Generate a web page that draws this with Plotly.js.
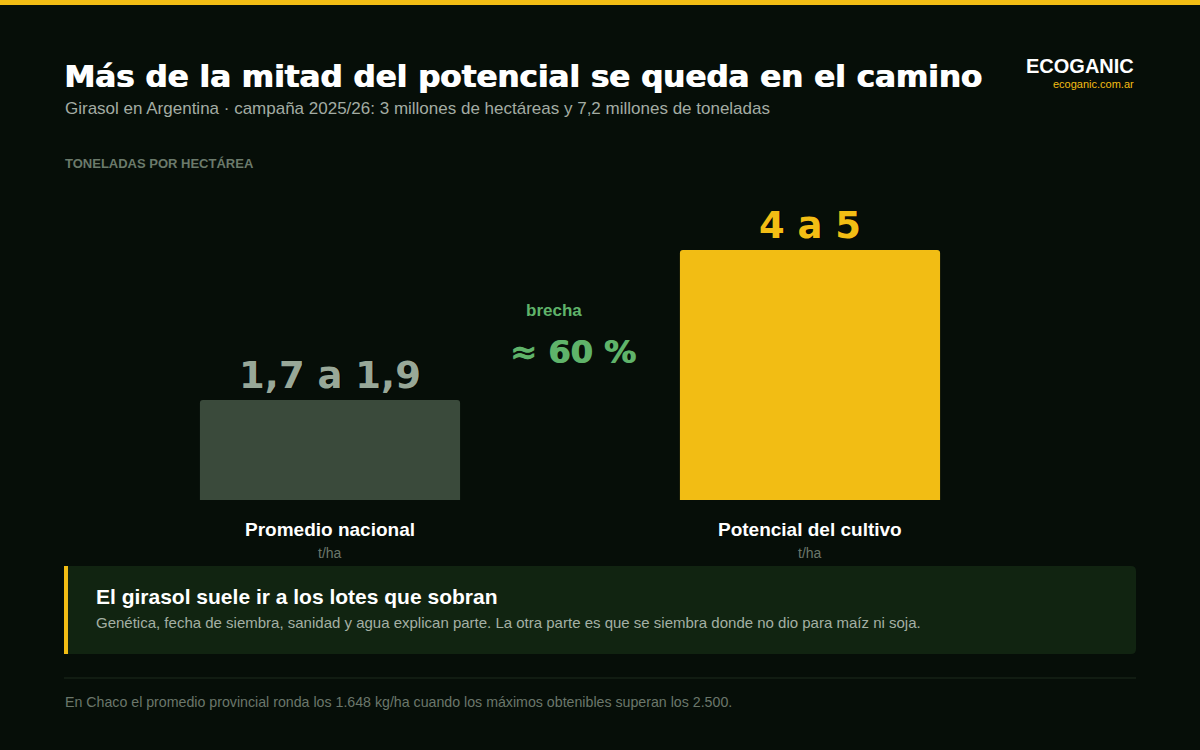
<!DOCTYPE html>
<html><head><meta charset="utf-8">
<script src="https://cdn.plot.ly/plotly-3.0.1.min.js"></script>
<style>html,body{margin:0;padding:0;background:#060e08;}#chart{width:1200px;height:750px;}</style>
</head><body><div id="chart"></div>
<script>
const categories = ["Promedio nacional", "Potencial del cultivo"];
const values = [1.8, 4.5];
const valueLabels = ["1,7 a 1,9", "4 a 5"];
const units = ["t/ha", "t/ha"];
const barColors = ["#3a4a3b", "#f2bd14"];
const labelColors = ["#98a898", "#f2bd14"];
const gapLabel = "brecha";
const gapValue = "≈ 60 %";

const W = 1200, H = 750;
const px = x => x / W;
const py = y => 1 - y / H;
const FONT = "Liberation Sans, Arial, sans-serif";
const HEAVY = "DejaVu Sans, Liberation Sans, sans-serif";

const trace = {
  type: "bar",
  x: categories,
  y: values,
  marker: {color: barColors, cornerradius: 3, line: {width: 0}},
  text: valueLabels,
  textposition: "outside",
  cliponaxis: false,
  textfont: {family: HEAVY, size: 37, weight: 700, color: labelColors, shadow: "1px 0 0 currentColor"},
  hoverinfo: "skip"
};

const ann = [];
function t(text, x, y, opts) {
  ann.push(Object.assign({text, x: px(x), y: py(y), xref: "paper", yref: "paper", showarrow: false,
    xanchor: "left", yanchor: "middle", font: {family: FONT, size: 14, color: "#fff"}}, opts || {}));
}
t("Más de la mitad del potencial se queda en el camino", 62, 76, {font: {family: HEAVY, size: 31, weight: 700, color: "#ffffff", shadow: "1px 0 0 #ffffff"}});
t("Girasol en Argentina · campaña 2025/26: 3 millones de hectáreas y 7,2 millones de toneladas", 63, 109, {font: {family: FONT, size: 17, color: "#a3aca3"}});
t("TONELADAS POR HECTÁREA", 63, 163, {font: {family: FONT, size: 13, weight: 700, color: "#6b7a6b"}});
t("ECOGANIC", 1136, 66, {xanchor: "right", font: {family: FONT, size: 20, weight: 700, color: "#ffffff"}});
t("ecoganic.com.ar", 1136, 84, {xanchor: "right", font: {family: FONT, size: 11, color: "#f2bd14"}});
categories.forEach((c, i) => {
  ann.push({text: "<b>" + c + "</b>", x: c, y: py(529), xref: "x", yref: "paper", showarrow: false,
    yanchor: "middle", xanchor: "center", font: {family: FONT, size: 19, color: "#ffffff"}});
  ann.push({text: units[i], x: c, y: py(553), xref: "x", yref: "paper", showarrow: false,
    yanchor: "middle", xanchor: "center", font: {family: FONT, size: 14, color: "#6b776b"}});
});
ann.push({text: "<b>" + gapLabel + "</b>", x: 0.5, xshift: -16, y: py(310), xref: "x", yref: "paper", showarrow: false,
  xanchor: "center", yanchor: "middle", font: {family: FONT, size: 17, color: "#5fb36a"}});
ann.push({text: gapValue, x: 0.5, xshift: 3, y: py(352), xref: "x", yref: "paper", showarrow: false,
  xanchor: "center", yanchor: "middle", font: {family: HEAVY, size: 32, weight: 700, color: "#5fb36a", shadow: "1px 0 0 #5fb36a"}});
t("El girasol suele ir a los lotes que sobran", 94, 596, {font: {family: FONT, size: 21, weight: 700, color: "#ffffff"}});
t("Genética, fecha de siembra, sanidad y agua explican parte. La otra parte es que se siembra donde no dio para maíz ni soja.", 94, 622, {font: {family: FONT, size: 15, color: "#a4b0a4"}});
t("En Chaco el promedio provincial ronda los 1.648 kg/ha cuando los máximos obtenibles superan los 2.500.", 63, 702, {font: {family: FONT, size: 14.2, color: "#6b776b"}});

function rrect(x0, y0, x1, y1, r) {
  const X0 = px(x0), X1 = px(x1), Y0 = py(y0), Y1 = py(y1);
  const rx = r / W, ry = r / H;
  return `M${X0},${Y0} L${X1 - rx},${Y0} Q${X1},${Y0} ${X1},${Y0 - ry} L${X1},${Y1 + ry} Q${X1},${Y1} ${X1 - rx},${Y1} L${X0},${Y1} Z`;
}

const shapes = [
  {type: "rect", xref: "paper", yref: "paper", x0: 0, x1: 1, y0: py(0), y1: py(5), fillcolor: "#f2bd14", line: {width: 0}, layer: "below"},
  {type: "path", xref: "paper", yref: "paper", path: rrect(64, 566, 1136, 654, 5), fillcolor: "#112411", line: {width: 0}, layer: "below"},
  {type: "rect", xref: "paper", yref: "paper", x0: px(64), x1: px(68), y0: py(566), y1: py(654), fillcolor: "#f2bd14", line: {width: 0}, layer: "below"},
  {type: "line", xref: "paper", yref: "paper", x0: px(64), x1: px(1136), y0: py(678), y1: py(678), line: {color: "#1c2a1d", width: 1}}
];

const layout = {
  width: W, height: H,
  margin: {l: 0, r: 0, t: 0, b: 0},
  paper_bgcolor: "#060e08", plot_bgcolor: "rgba(0,0,0,0)",
  showlegend: false,
  bargap: 0.458,
  xaxis: {type: "category", range: [-0.6875, 1.8125], visible: false, fixedrange: true},
  yaxis: {range: [-4.5, 9], visible: false, fixedrange: true, zeroline: false, showgrid: false},
  annotations: ann,
  shapes: shapes,
  font: {family: FONT}
};
Plotly.newPlot("chart", [trace], layout, {displayModeBar: false, staticPlot: true});
</script></body></html>
